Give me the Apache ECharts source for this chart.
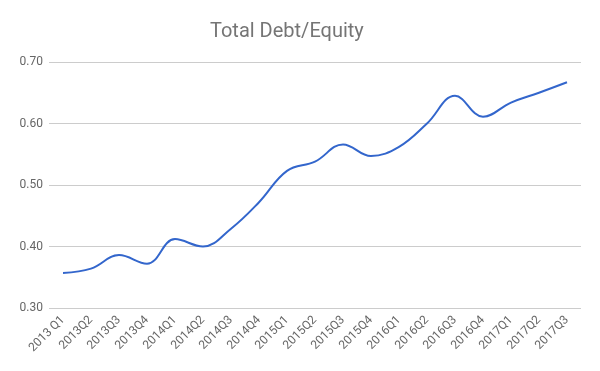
<!DOCTYPE html>
<html><head><meta charset="utf-8">
<script src="https://cdn.jsdelivr.net/npm/echarts@6/dist/echarts.min.js"></script>
<style>html,body{margin:0;padding:0;background:#fff}#c{width:600px;height:371px}</style>
</head><body><div id="c"></div>
<script>
const categories = ['2013 Q1','2013Q2','2013Q3','2013Q4','2014Q1','2014Q2','2014Q3','2014Q4','2015Q1','2015Q2','2015Q3','2015Q4','2016Q1','2016Q2','2016Q3','2016Q4','2017Q1','2017Q2','2017Q3'];
const debtEquity = [0.357,0.364,0.386,0.372,0.412,0.400,0.429,0.472,0.523,0.538,0.566,0.547,0.562,0.600,0.645,0.611,0.634,0.650,0.667];
const yTicks = [0.30,0.40,0.50,0.60,0.70];
const chart = echarts.init(document.getElementById('c'));
chart.setOption({
  animation:false,
  title:{text:'Total Debt/Equity',left:205,top:17,textStyle:{fontFamily:'Roboto',fontSize:20,fontWeight:'normal',color:'#757575'}},
  grid:{left:49,right:19,top:62,bottom:63},
  xAxis:{type:'category',data:categories,boundaryGap:true,
    axisLine:{show:false},axisTick:{show:false},
    axisLabel:{rotate:45,interval:0,fontFamily:'Roboto',fontSize:12,color:'#666666',margin:10}},
  yAxis:{type:'value',min:yTicks[0],max:yTicks[yTicks.length-1],interval:0.1,
    axisLine:{show:false},axisTick:{show:false},
    splitLine:{lineStyle:{color:'#cccccc',width:1}},
    axisLabel:{formatter:v=>v.toFixed(2),fontFamily:'Roboto',fontSize:12,color:'#666666',margin:6}},
  series:[{type:'line',data:debtEquity,smooth:0.4,showSymbol:false,lineStyle:{color:'#3366cc',width:2},itemStyle:{color:'#3366cc'}}]
});
</script></body></html>
